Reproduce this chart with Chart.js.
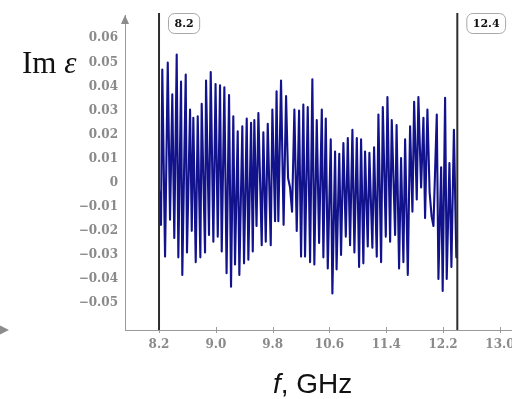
<!DOCTYPE html>
<html>
<head>
<meta charset="utf-8">
<script src="https://cdn.jsdelivr.net/npm/chart.js@4/dist/chart.umd.min.js"></script>
<style>
  html, body { margin: 0; padding: 0; background: #ffffff; }
  #wrap { width: 512px; height: 399px; position: relative; }
</style>
</head>
<body>
<div id="wrap"><canvas id="c" width="512" height="399"></canvas></div>
<script>
// Frequency samples, GHz
const freqGHz = [
  8.200, 8.228, 8.246, 8.285, 8.323, 8.355, 8.387, 8.415, 8.449, 8.472,
  8.510, 8.528, 8.576, 8.594, 8.637, 8.661, 8.683, 8.717, 8.745, 8.782,
  8.801, 8.848, 8.862, 8.904, 8.928, 8.965, 8.996, 9.027, 9.059, 9.083,
  9.120, 9.151, 9.186, 9.214, 9.246, 9.270, 9.308, 9.331, 9.373, 9.397,
  9.435, 9.458, 9.496, 9.520, 9.542, 9.573, 9.599, 9.646, 9.669, 9.703,
  9.731, 9.773, 9.796, 9.834, 9.855, 9.880, 9.918, 9.954, 9.989, 10.017,
  10.045, 10.073, 10.106, 10.139, 10.172, 10.200, 10.232, 10.256, 10.294, 10.327,
  10.359, 10.387, 10.421, 10.454, 10.492, 10.514, 10.548, 10.576, 10.618, 10.641,
  10.679, 10.700, 10.738, 10.763, 10.796, 10.830, 10.858, 10.890, 10.923, 10.951,
  10.985, 11.017, 11.045, 11.077, 11.101, 11.139, 11.162, 11.204, 11.228, 11.266,
  11.289, 11.327, 11.351, 11.393, 11.416, 11.454, 11.477, 11.524, 11.545, 11.580,
  11.608, 11.641, 11.665, 11.703, 11.735, 11.768, 11.792, 11.829, 11.852, 11.890,
  11.923, 11.946, 11.979, 12.010, 12.038, 12.064, 12.111, 12.134, 12.172, 12.194,
  12.228, 12.251, 12.289, 12.317, 12.352, 12.386, 12.397
];

// Imaginary part of the permittivity at each frequency
const imEps = [
  -0.0030, -0.0175, 0.0470, -0.0307, 0.0499, -0.0154, 0.0367, -0.0230, 0.0533, -0.0310,
  0.0420, -0.0383, 0.0450, -0.0290, 0.0304, -0.0200, 0.0270, -0.0330, 0.0276, -0.0310,
  0.0328, -0.0290, 0.0425, -0.0217, 0.0460, -0.0245, 0.0410, -0.0224, 0.0405, -0.0286,
  0.0397, -0.0376, 0.0364, -0.0432, 0.0276, -0.0340, 0.0214, -0.0383, 0.0235, -0.0335,
  0.0267, -0.0320, 0.0249, -0.0286, 0.0260, -0.0180, 0.0290, -0.0260, 0.0210, -0.0245,
  0.0245, -0.0260, 0.0304, -0.0160, 0.0380, -0.0160, 0.0425, -0.0175, 0.0360, 0.0020,
  -0.0020, -0.0120, 0.0304, -0.0200, 0.0300, -0.0307, 0.0325, -0.0307, 0.0314, -0.0330,
  0.0430, -0.0340, 0.0260, -0.0250, 0.0304, -0.0310, 0.0267, -0.0356, 0.0180, -0.0460,
  0.0130, -0.0360, 0.0120, -0.0300, 0.0165, -0.0224, 0.0186, -0.0260, 0.0220, -0.0290,
  0.0186, -0.0350, 0.0180, -0.0335, 0.0130, -0.0265, 0.0124, -0.0270, 0.0147, -0.0307,
  0.0283, -0.0330, 0.0314, -0.0224, 0.0356, -0.0245, 0.0260, -0.0217, 0.0240, -0.0356,
  0.0103, -0.0330, 0.0180, -0.0383, 0.0235, -0.0120, 0.0336, -0.0070, 0.0356, -0.0020,
  0.0270, -0.0147, 0.0304, -0.0040, -0.0140, -0.0180, 0.0283, -0.0400, 0.0064, -0.0450,
  0.0353, -0.0400, 0.0082, -0.0350, 0.0220, -0.0310, -0.0240
];

const xTickValues = [8.2, 9.0, 9.8, 10.6, 11.4, 12.2, 13.0];
const yTickValues = [-0.05, -0.04, -0.03, -0.02, -0.01, 0, 0.01, 0.02, 0.03, 0.04, 0.05, 0.06];
const bandEdges = [8.2, 12.4];
const bandEdgeLabels = ['8.2', '12.4'];

const AXIS_GRAY = '#9a9a9a';
const TICK_FONT = { family: 'DejaVu Serif', size: 12, weight: 'bold' };

function fmtY(v) {
  if (Math.abs(v) < 1e-9) return '0';
  const s = Math.abs(v).toFixed(2);
  return v < 0 ? '\u2212' + s : s;
}

function roundRect(ctx, x, y, w, h, r) {
  ctx.beginPath();
  ctx.moveTo(x + r, y);
  ctx.lineTo(x + w - r, y);
  ctx.arcTo(x + w, y, x + w, y + r, r);
  ctx.lineTo(x + w, y + h - r);
  ctx.arcTo(x + w, y + h, x + w - r, y + h, r);
  ctx.lineTo(x + r, y + h);
  ctx.arcTo(x, y + h, x, y + h - r, r);
  ctx.lineTo(x, y + r);
  ctx.arcTo(x, y, x + r, y, r);
  ctx.closePath();
}

// Axis arrows, crossing tick marks, band-edge markers and axis titles
const decorations = {
  id: 'decorations',
  afterDatasetsDraw(chart) {
    const ctx = chart.ctx;
    const xs = chart.scales.x;
    const area = chart.chartArea;
    ctx.save();

    // tick marks crossing the frequency axis
    ctx.strokeStyle = AXIS_GRAY;
    ctx.lineWidth = 1;
    xs.ticks.forEach(t => {
      const px = Math.round(xs.getPixelForValue(t.value)) + 0.5;
      ctx.beginPath();
      ctx.moveTo(px, area.bottom - 3);
      ctx.lineTo(px, area.bottom + 3);
      ctx.stroke();
    });

    // arrow heads
    ctx.fillStyle = '#8c8c8c';
    ctx.beginPath();
    ctx.moveTo(area.left, area.top);
    ctx.lineTo(area.left - 4, area.top + 9);
    ctx.lineTo(area.left + 4, area.top + 9);
    ctx.closePath();
    ctx.fill();
    ctx.beginPath();
    ctx.moveTo(0, area.bottom - 4.5);
    ctx.lineTo(9, area.bottom);
    ctx.lineTo(0, area.bottom + 4.5);
    ctx.closePath();
    ctx.fill();

    // band-edge lines and their labels
    bandEdges.forEach((f, i) => {
      const px = xs.getPixelForValue(f);
      ctx.strokeStyle = '#2e2e2e';
      ctx.lineWidth = 2;
      ctx.beginPath();
      ctx.moveTo(px, 13);
      ctx.lineTo(px, area.bottom);
      ctx.stroke();

      ctx.font = 'bold 11px "DejaVu Serif"';
      const label = bandEdgeLabels[i];
      const tw = ctx.measureText(label).width;
      const bw = tw + 12, bh = 20, bx = px + 9.5, by = 13.5;
      ctx.fillStyle = '#ffffff';
      roundRect(ctx, bx, by, bw, bh, 6);
      ctx.fill();
      ctx.strokeStyle = '#a8a8a8';
      ctx.lineWidth = 1;
      ctx.stroke();
      ctx.fillStyle = '#111111';
      ctx.textAlign = 'center';
      ctx.textBaseline = 'middle';
      ctx.fillText(label, bx + bw / 2, by + bh / 2 + 0.5);
    });

    // vertical axis title: Im ε
    ctx.fillStyle = '#111111';
    ctx.textAlign = 'left';
    ctx.textBaseline = 'alphabetic';
    ctx.font = '31px "Liberation Serif"';
    ctx.fillText('Im', 22, 73);
    const imW = ctx.measureText('Im ').width;
    ctx.font = 'italic 31px "Liberation Serif"';
    ctx.fillText('\u03b5', 22 + imW, 73);

    // horizontal axis title: f, GHz
    ctx.font = 'italic 28px "Liberation Sans"';
    ctx.fillText('f', 273, 393);
    const fW = ctx.measureText('f').width;
    ctx.font = '28px "Liberation Sans"';
    ctx.fillText(', GHz', 273 + fW, 393);

    ctx.restore();
  }
};

const points = freqGHz.map((f, i) => ({ x: f, y: imEps[i] }));

new Chart(document.getElementById('c'), {
  type: 'line',
  data: {
    datasets: [{
      data: points,
      borderColor: 'rgb(18, 18, 140)',
      borderWidth: 2.1,
      borderJoinStyle: 'round',
      pointRadius: 0,
      tension: 0,
      fill: false
    }]
  },
  options: {
    responsive: false,
    devicePixelRatio: 1,
    animation: false,
    events: [],
    layout: { padding: { top: 15, left: 0, right: 0, bottom: 0 } },
    plugins: { legend: { display: false }, tooltip: { enabled: false } },
    scales: {
      x: {
        type: 'linear',
        min: 7.721,
        max: 13.17,
        afterBuildTicks(scale) { scale.ticks = xTickValues.map(v => ({ value: v })); },
        afterFit(scale) { scale.height = 69; scale.paddingLeft = 0; scale.paddingRight = 0; },
        grid: { display: false, drawTicks: false },
        border: { display: true, color: AXIS_GRAY, width: 1 },
        ticks: {
          autoSkip: false,
          maxRotation: 0,
          padding: 8,
          color: '#8a8a8a',
          font: TICK_FONT,
          callback: v => Number(v).toFixed(1)
        }
      },
      y: {
        type: 'linear',
        min: -0.0612,
        max: 0.0697,
        afterBuildTicks(scale) { scale.ticks = yTickValues.map(v => ({ value: v })); },
        afterFit(scale) { scale.width = 125; scale.paddingTop = 0; scale.paddingBottom = 0; },
        grid: { display: false, drawTicks: false },
        border: { display: true, color: AXIS_GRAY, width: 1 },
        ticks: {
          autoSkip: false,
          padding: 7,
          color: '#8a8a8a',
          font: TICK_FONT,
          callback: v => fmtY(v)
        }
      }
    }
  },
  plugins: [decorations]
});
</script>
</body>
</html>
